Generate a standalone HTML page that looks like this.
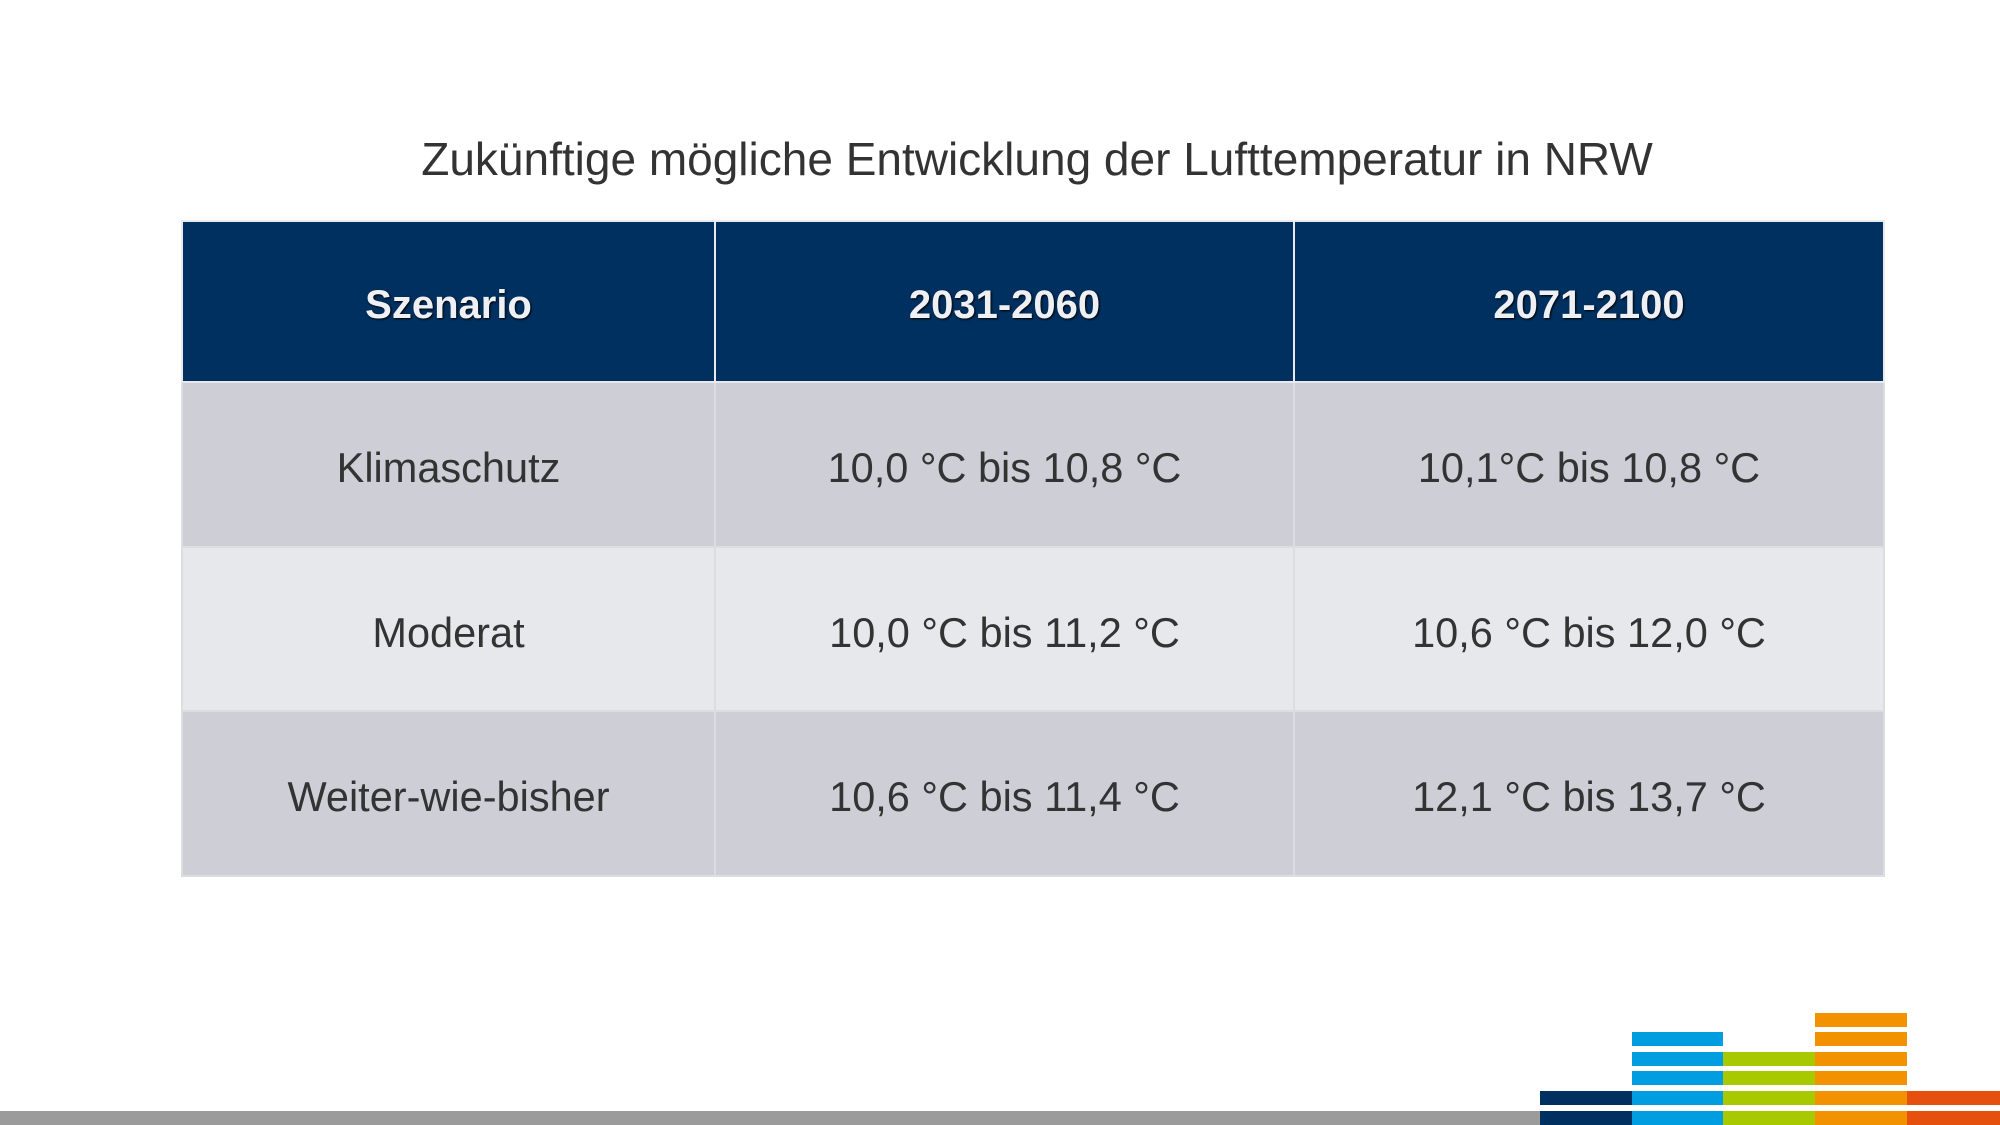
<!DOCTYPE html>
<html><head><meta charset="utf-8"><style>
html,body{margin:0;padding:0;width:2000px;height:1125px;background:#fff;overflow:hidden;position:relative;font-family:"Liberation Sans",Arial,sans-serif;}
.title{position:absolute;left:0;width:2074px;top:132px;text-align:center;font-size:46px;color:#333;}
table{position:absolute;left:181px;top:220px;width:1702px;height:657px;border-collapse:collapse;table-layout:fixed;}
td{text-align:center;vertical-align:middle;font-size:41.5px;color:#333;border:2px solid #dcdde0;padding:7px 0 0 0;}
tr.h td{background:#003060;color:#eef0f4;font-weight:bold;font-size:40px;border:2px solid #e8eaee;text-shadow:1px 1px 2px #000;height:152px;}
tr.a td{background:#cdced6;height:156px;}
tr.b td{background:#e7e8eb;height:155px;}
.bar{position:absolute;height:14px;}
</style></head><body>
<div class="title">Zukünftige mögliche Entwicklung der Lufttemperatur in NRW</div>
<table>
<colgroup><col style="width:533px"><col style="width:579px"><col style="width:590px"></colgroup>
<tr class="h"><td>Szenario</td><td>2031-2060</td><td>2071-2100</td></tr>
<tr class="a"><td>Klimaschutz</td><td>10,0 °C bis 10,8 °C</td><td>10,1°C bis 10,8 °C</td></tr>
<tr class="b"><td>Moderat</td><td>10,0 °C bis 11,2 °C</td><td>10,6 °C bis 12,0 °C</td></tr>
<tr class="a"><td>Weiter-wie-bisher</td><td>10,6 °C bis 11,4 °C</td><td>12,1 °C bis 13,7 °C</td></tr>
</table>
<div class="bar" style="left:0;width:1540px;top:1111px;background:#9b9b9b"></div>
<div class="bar" style="left:1540px;width:92px;top:1091px;background:#003060"></div>
<div class="bar" style="left:1540px;width:92px;top:1111px;background:#003060"></div>
<div class="bar" style="left:1632px;width:91px;top:1032px;background:#009ee0"></div>
<div class="bar" style="left:1632px;width:91px;top:1052px;background:#009ee0"></div>
<div class="bar" style="left:1632px;width:91px;top:1071px;background:#009ee0"></div>
<div class="bar" style="left:1632px;width:91px;top:1091px;background:#009ee0"></div>
<div class="bar" style="left:1632px;width:91px;top:1111px;background:#009ee0"></div>
<div class="bar" style="left:1723px;width:92px;top:1052px;background:#a8c800"></div>
<div class="bar" style="left:1723px;width:92px;top:1071px;background:#a8c800"></div>
<div class="bar" style="left:1723px;width:92px;top:1091px;background:#a8c800"></div>
<div class="bar" style="left:1723px;width:92px;top:1111px;background:#a8c800"></div>
<div class="bar" style="left:1815px;width:92px;top:1013px;background:#f39200"></div>
<div class="bar" style="left:1815px;width:92px;top:1032px;background:#f39200"></div>
<div class="bar" style="left:1815px;width:92px;top:1052px;background:#f39200"></div>
<div class="bar" style="left:1815px;width:92px;top:1071px;background:#f39200"></div>
<div class="bar" style="left:1815px;width:92px;top:1091px;background:#f39200"></div>
<div class="bar" style="left:1815px;width:92px;top:1111px;background:#f39200"></div>
<div class="bar" style="left:1907px;width:93px;top:1091px;background:#e6500f"></div>
<div class="bar" style="left:1907px;width:93px;top:1111px;background:#e6500f"></div>
</body></html>
